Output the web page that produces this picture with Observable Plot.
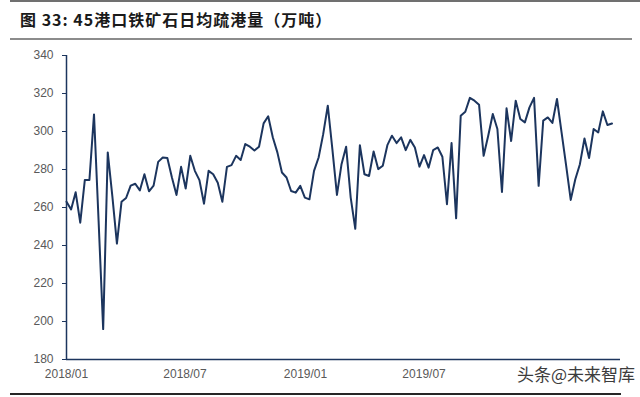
<!DOCTYPE html>
<html>
<head>
<meta charset="utf-8">
<script src="https://cdn.jsdelivr.net/npm/d3@7"></script>
<script src="https://cdn.jsdelivr.net/npm/@observablehq/plot@0.6"></script>
<style>
  html, body { margin: 0; padding: 0; background: #fff; }
  body { width: 640px; height: 397px; position: relative; overflow: hidden; font-family: "Liberation Sans", Arial, sans-serif; }
  .rule { position: absolute; left: 10px; }
  #rTop { top: 0px; height: 2px; width: 630px; background: #707070; }
  #rMid { top: 38px; height: 2px; width: 622px; background: #8c8c8c; }
  #rBot { top: 393px; height: 2px; width: 611px; background: #262626; }
  #title { position: absolute; left: 20px; top: 9px; font-family: "Noto Sans CJK SC", sans-serif; font-weight: bold; font-size: 16px; line-height: 20px; letter-spacing: 1px; color: #1a1a1a; white-space: nowrap; }
  #chart { position: absolute; left: 0; top: 40px; }
  #wm { position: absolute; left: 517px; top: 364px; font-family: "Noto Sans CJK SC", sans-serif; font-size: 17px; line-height: 20px; color: #3c3c3c; text-shadow: 0 0 2px #fff; white-space: nowrap; }
</style>
</head>
<body>
<div class="rule" id="rTop"></div>
<div id="title">图 33: 45港口铁矿石日均疏港量（万吨）</div>
<div class="rule" id="rMid"></div>
<div id="chart"></div>
<div class="rule" id="rBot"></div>
<div id="wm">头条@未来智库</div>
<script>
// ---- data ----
const startDate = "2018-01-01";      // first weekly observation
const weekStepDays = 7;
const values = [
  263, 259, 268, 252, 274.5, 274.5, 309, 253, 196, 289,
  266, 241, 263, 265, 271.5, 272.5, 269, 277.5, 268.5, 271.5,
  284, 286.3, 286, 275.8, 266.6, 281.4, 270, 287.2, 279.3, 274.4,
  262, 279.3, 277.5, 273, 263, 281.4, 282.3, 287.2, 285, 293.4,
  292, 290, 292, 304.3, 308, 297, 289, 278.4, 275.8, 268.7,
  267.8, 271.4, 265.2, 264.3, 279.3, 286.3, 298.6, 313.6, 290.7, 266.6,
  282.8, 292, 265.2, 248.8, 292.8, 277.5, 276.6, 289.5, 280.2, 282,
  292.8, 297.8, 293.9, 296.9, 290.2, 295.6, 291.6, 281.5, 287.6, 281,
  290.2, 291.6, 286.7, 261.7, 293.9, 254.3, 308.3, 310.4, 317.7, 316.2,
  314.1, 287.2, 297.8, 309.2, 301.3, 268.2, 312.2, 295, 316.2, 306.6,
  304.8, 312.7, 317.7, 271.4, 305.7, 307.4, 304.5, 317.1, 299.5, 282,
  264, 274.9, 282.8, 296.3, 286, 301.3, 299.5, 310.6, 303.4, 304.2
];
const xTickLabels = ["2018/01", "2018/07", "2019/01", "2019/07"];
const yTicks = [180, 200, 220, 240, 260, 280, 300, 320, 340];
const xDomain = ["2018-01-01", "2020-04-26"];
const yDomain = [180, 340];

// ---- build table ----
const t0 = new Date(startDate + "T00:00:00Z");
const data = values.map((v, i) => ({
  date: new Date(t0.getTime() + i * weekStepDays * 86400000),
  value: v
}));
const parseTick = d3.utcParse("%Y/%m");
const xTicks = xTickLabels.map(parseTick);
const navy = "#1c355e";

const chart = Plot.plot({
  width: 640,
  height: 345,
  marginTop: 15,
  marginBottom: 26,
  marginLeft: 66,
  marginRight: 20,
  style: { fontFamily: "Liberation Sans, Arial, sans-serif", fontSize: "12px", background: "transparent" },
  x: { type: "utc", domain: xDomain.map(d => new Date(d + "T00:00:00Z")) },
  y: { domain: yDomain },
  marks: [
    Plot.axisY({ ticks: yTicks, tickSize: 4, tickPadding: 9, stroke: navy, fill: "#595959", label: null, fontSize: 12 }),
    Plot.axisX({ ticks: xTicks, tickFormat: d3.utcFormat("%Y/%m"), tickSize: 0, tickPadding: 10, fill: "#595959", label: null, fontSize: 12 }),
    Plot.ruleX([new Date(xDomain[0] + "T00:00:00Z")], { y1: yDomain[0], y2: yDomain[1], stroke: navy, strokeWidth: 1.5 }),
    Plot.ruleY([yDomain[0]], { stroke: navy, strokeWidth: 1.5 }),
    Plot.line(data, { x: "date", y: "value", stroke: navy, strokeWidth: 2 })
  ]
});
document.getElementById("chart").appendChild(chart);
</script>
</body>
</html>
